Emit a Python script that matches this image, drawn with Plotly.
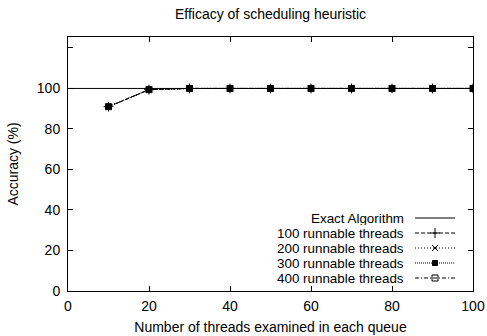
import plotly.graph_objects as go

# ---- data ----
threads_examined = [10, 20, 30, 40, 50, 60, 70, 80, 90, 100]
acc_100 = [91.0, 99.4, 100, 100, 100, 100, 100, 100, 100, 100]
acc_200 = [91.0, 99.4, 100, 100, 100, 100, 100, 100, 100, 100]
acc_300 = [91.0, 99.4, 100, 100, 100, 100, 100, 100, 100, 100]
acc_400 = [91.0, 99.4, 100, 100, 100, 100, 100, 100, 100, 100]
exact_x = [0, 100]
exact_y = [100, 100]
x_ticks = [0, 20, 40, 60, 80, 100]
y_ticks = [0, 20, 40, 60, 80, 100, 120]
y_tick_labels = ["0", "20", "40", "60", "80", "100", ""]
series_names = ["Exact Algorithm", "100 runnable threads", "200 runnable threads",
                "300 runnable threads", "400 runnable threads"]

FONT = "Liberation Sans, Arial, Helvetica, sans-serif"
FS = 14
KEY_FS = 13.4
styles = [
    dict(dash="solid", symbol=None, size=0),
    dict(dash="4px,2px", symbol="cross-thin-open", size=7),
    dict(dash="1px,2px", symbol="x-thin-open", size=6),
    dict(dash="1px,1px", symbol="square", size=5),
    dict(dash="4px,2px,1px,2px", symbol="square-open", size=6),
]

fig = go.Figure()
fig.add_trace(go.Scatter(x=exact_x, y=exact_y, mode="lines",
                         line=dict(color="black", width=1, dash="solid"),
                         showlegend=False, hoverinfo="skip"))
for ys, st in zip([acc_100, acc_200, acc_300, acc_400], styles[1:]):
    fig.add_trace(go.Scatter(x=threads_examined, y=ys, mode="lines+markers",
                             line=dict(color="black", width=1, dash=st["dash"]),
                             marker=dict(symbol=st["symbol"], size=st["size"], color="black",
                                         line=dict(color="black", width=1)),
                             showlegend=False))

# ---- gnuplot-style key (samples on the right of the text) ----
# overlay axes measured in pixels inside the plot area
PW, PH = 405, 254
row_y = [73, 58, 43, 28, 13]
for name, st, ry in zip(series_names, styles, row_y):
    fig.add_annotation(x=338, y=ry, xref="x2", yref="y2", text=name, showarrow=False,
                       xanchor="right", yanchor="middle", height=14,
                       font=dict(family=FONT, size=KEY_FS, color="black"))
    fig.add_trace(go.Scatter(x=[347, 387], y=[ry, ry], xaxis="x2", yaxis="y2",
                             mode="lines", line=dict(color="black", width=1, dash=st["dash"]),
                             showlegend=False, hoverinfo="skip"))
    if st["symbol"]:
        fig.add_trace(go.Scatter(x=[367], y=[ry], xaxis="x2", yaxis="y2", mode="markers",
                                 marker=dict(symbol=st["symbol"], size=st["size"], color="black",
                                             line=dict(color="black", width=1)),
                                 showlegend=False, hoverinfo="skip"))

axis_common = dict(showline=True, linecolor="black", linewidth=1, mirror="ticks",
                   ticks="inside", ticklen=5, tickcolor="black", tickwidth=1,
                   showgrid=False, zeroline=False,
                   tickfont=dict(family=FONT, size=FS, color="black"))

fig.update_layout(
    width=487, height=336,
    margin=dict(l=68, r=14, t=37, b=45, autoexpand=False),
    paper_bgcolor="white", plot_bgcolor="white",
    showlegend=False,
    title=dict(text="Efficacy of scheduling heuristic", x=0.5555, xanchor="center",
               y=1 - 14 / 336, yanchor="middle",
               font=dict(family=FONT, size=FS, color="black")),
    xaxis=dict(range=[0, 100], tickvals=x_ticks, ticklabelstandoff=2,
               title=dict(text="Number of threads examined in each queue", standoff=9,
                          font=dict(family=FONT, size=FS, color="black")),
               automargin=False, **axis_common),
    yaxis=dict(range=[0, 125.4], tickvals=y_ticks, ticktext=y_tick_labels,
               ticklabelstandoff=4,
               title=dict(text="Accuracy (%)", standoff=14,
                          font=dict(family=FONT, size=FS, color="black")),
               automargin=False, **axis_common),
    xaxis2=dict(range=[0, PW], overlaying="x", visible=False, fixedrange=True),
    yaxis2=dict(range=[0, PH], overlaying="y", visible=False, fixedrange=True),
)

fig.write_html("out.html")
